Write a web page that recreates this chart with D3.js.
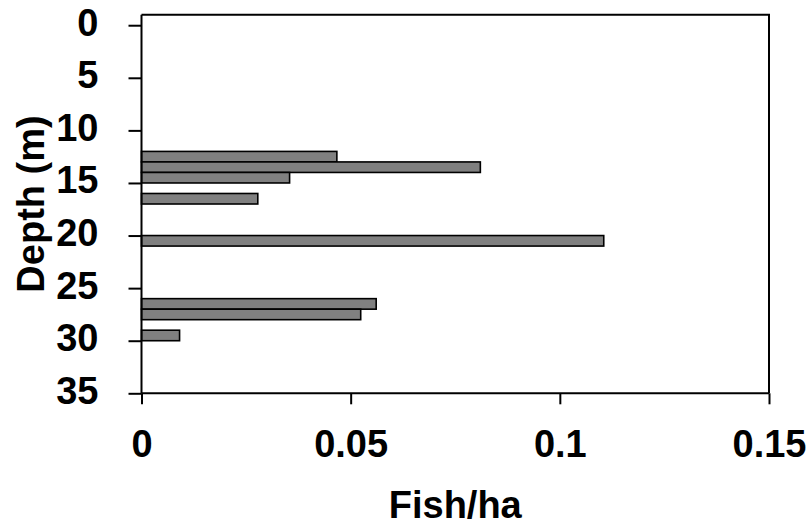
<!DOCTYPE html>
<html><head><meta charset="utf-8">
<script src="https://cdn.jsdelivr.net/npm/d3@7"></script>
<style>body{margin:0;background:#fff}svg{display:block}text{font-family:"Liberation Sans",Arial,sans-serif;font-weight:bold;fill:#000}</style>
</head><body><svg id="c" width="808" height="527"></svg>
<script>
const depths = [12, 13, 14, 16, 20, 26, 27, 29];
const fishPerHa = [0.0467, 0.0810, 0.0354, 0.0278, 0.1105, 0.0561, 0.0524, 0.0091];
const yTicks = [0, 5, 10, 15, 20, 25, 30, 35];
const xTicks = [0, 0.05, 0.1, 0.15];
const xTitle = "Fish/ha";
const yTitle = "Depth (m)";

const svg = d3.select("#c");
const L = 141.5, R = 769, T = 14.7, B = 393.3;
const x = d3.scaleLinear().domain([0, 0.15]).range([L, R]);
const y = d3.scaleLinear().domain([-1, 35]).range([T, B]);

svg.append("g").selectAll("rect").data(depths).join("rect")
  .attr("x", L)
  .attr("y", d => y(d))
  .attr("width", (d, i) => x(fishPerHa[i]) - L)
  .attr("height", d => y(d + 1) - y(d))
  .attr("fill", "#808080").attr("stroke", "#000").attr("stroke-width", 1.6);

svg.append("path").attr("d", `M${L},${T}H${R}V${B}`).attr("fill", "none").attr("stroke", "#000").attr("stroke-width", 2);

const ya = d3.axisLeft(y).tickValues(yTicks).tickSize(13).tickSizeOuter(0).tickPadding(30);
const gy = svg.append("g").attr("transform", `translate(${L},0)`).call(ya);
gy.attr("font-family", null).attr("font-size", null);
gy.select(".domain").attr("d", `M0,${T}V${B}`).attr("stroke-width", 2);
gy.selectAll(".tick line").attr("stroke-width", 2);
gy.selectAll(".tick text").attr("font-size", 38).attr("dy", null).attr("y", 10);

const xa = d3.axisBottom(x).tickValues(xTicks).tickFormat(d3.format("~g")).tickSize(11).tickSizeOuter(0).tickPadding(0);
const gx = svg.append("g").attr("transform", `translate(0,${B})`).call(xa);
gx.attr("font-family", null).attr("font-size", null);
gx.select(".domain").attr("d", `M${L},0H${R}`).attr("stroke-width", 2);
gx.selectAll(".tick line").attr("stroke-width", 2);
gx.selectAll(".tick text").attr("font-size", 38).attr("y", 64).attr("dy", null);

svg.append("text").attr("x", (L + R) / 2).attr("y", 518).attr("text-anchor", "middle").attr("font-size", 38).text(xTitle);
svg.append("text").attr("transform", `translate(44,${(T + B) / 2}) rotate(-90)`).attr("text-anchor", "middle").attr("font-size", 38).text(yTitle);
</script></body></html>
